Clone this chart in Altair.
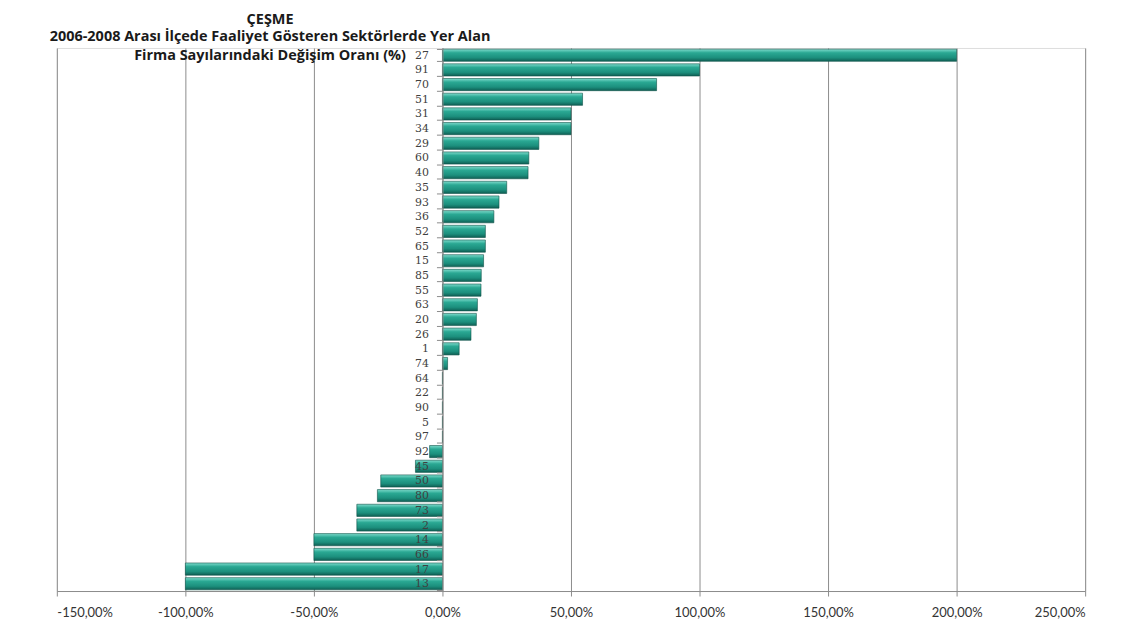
import altair as alt
import pandas as pd

sectors = ["27", "91", "70", "51", "31", "34", "29", "60", "40", "35", "93", "36", "52",
           "65", "15", "85", "55", "63", "20", "26", "1", "74", "64", "22", "90", "5",
           "97", "92", "45", "50", "80", "73", "2", "14", "66", "17", "13"]
changes = [200.0, 100.0, 83.3, 54.5, 50.0, 50.0, 37.5, 33.6, 33.3, 25.0, 22.0, 20.0, 16.7,
           16.7, 16.0, 15.1, 15.0, 13.6, 13.2, 11.1, 6.5, 2.0, 0.0, 0.0, 0.0, 0.0,
           0.0, -5.0, -10.5, -24.0, -25.3, -33.3, -33.3, -50.0, -50.0, -100.0, -100.0]
x_ticks = [-150, -100, -50, 0, 50, 100, 150, 200, 250]
title_lines = ["ÇEŞME",
               "2006-2008 Arası İlçede Faaliyet Gösteren Sektörlerde Yer Alan",
               "Firma Sayılarındaki Değişim Oranı (%)"]

df = pd.DataFrame({"sector": sectors, "change": changes})

W, H = 1032, 545
X0 = -150
X1 = 250
zero_px = (0 - X0) / (X1 - X0) * W

grad = alt.Gradient(
    gradient="linear", x1=0, y1=0, x2=0, y2=1,
    stops=[alt.GradientStop(color="#7fdccd", offset=0),
           alt.GradientStop(color="#2aa893", offset=0.3),
           alt.GradientStop(color="#1c8f7d", offset=0.7),
           alt.GradientStop(color="#0f5f54", offset=1)])

bars = alt.Chart(df).mark_bar(color=grad, stroke="#0d5248", strokeWidth=0.6).encode(
    y=alt.Y("sector:N", sort=sectors,
            scale=alt.Scale(paddingInner=0.17, paddingOuter=0.08),
            axis=alt.Axis(title=None, offset=-zero_px, orient="left", zindex=1,
                          domainColor="#8c8c8c", tickColor="#8c8c8c", tickSize=6,
                          tickBand="extent", labelPadding=8, labelOverlap=False,
                          labelFont="DejaVu Serif", labelFontSize=11,
                          labelColor="#404040", grid=False)),
    x=alt.X("change:Q",
            scale=alt.Scale(domain=[X0, X1], nice=False),
            axis=alt.Axis(title=None, values=x_ticks, zindex=0,
                          labelExpr="replace(replace(format(datum.value, '.2f'), '.', ','), '\u2212', '-') + '%'",
                          labelFont="Lato", labelFontSize=13, labelColor="#333333",
                          labelPadding=11, tickSize=5, tickColor="#8c8c8c",
                          domainColor="#8c8c8c", gridColor="#8c8c8c", gridWidth=1,
                          grid=True)),
)

title_y = [-28, -11, 8]
titles = []
for i, t in enumerate(title_lines):
    titles.append(
        alt.Chart(pd.DataFrame({"t": [t]})).mark_text(
            font="Open Sans", fontWeight="bold", fontSize=14.5, color="#1a1a1a",
            align="center", baseline="middle").encode(
            text="t:N", x=alt.value(214), y=alt.value(title_y[i]))
    )

chart = alt.layer(bars, *titles).properties(
    width=W, height=H,
    autosize=alt.AutoSizeParams(type="none"),
    padding={"left": 49, "top": 39, "right": 40, "bottom": 35},
).configure_view(stroke=None).configure(background="white")

chart.save("out.html", embed_options={"renderer": "svg", "actions": False})
